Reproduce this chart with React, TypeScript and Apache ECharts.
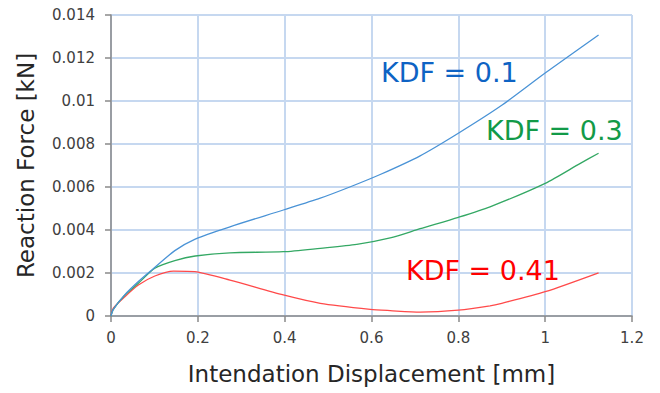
import React, { useEffect, useRef } from "react";
import * as echarts from "echarts";

// Indentation displacement [mm] and reaction force [kN] for each KDF value
const kdf01X = [0, 0.005, 0.03, 0.063, 0.094, 0.147, 0.194, 0.274, 0.397, 0.482, 0.55, 0.62, 0.712, 0.8, 0.9, 1.0, 1.123];
const kdf01Y = [0, 0.0003, 0.00095, 0.0016, 0.00214, 0.00304, 0.00358, 0.00415, 0.00493, 0.00548, 0.006, 0.00658, 0.00745, 0.0085, 0.0098, 0.0113, 0.01307];

const kdf03X = [0, 0.005, 0.03, 0.063, 0.101, 0.147, 0.194, 0.274, 0.397, 0.482, 0.566, 0.643, 0.712, 0.8, 0.873, 1.0, 1.081, 1.123];
const kdf03Y = [0, 0.0003, 0.00093, 0.00152, 0.00222, 0.00257, 0.00279, 0.00294, 0.00299, 0.00315, 0.00333, 0.00363, 0.00406, 0.00459, 0.00508, 0.00617, 0.0071, 0.00757];

const kdf041X = [0, 0.005, 0.032, 0.063, 0.101, 0.144, 0.193, 0.274, 0.397, 0.482, 0.597, 0.643, 0.712, 0.8, 0.873, 0.9, 1.0, 1.123];
const kdf041Y = [0, 0.00036, 0.0009, 0.00144, 0.00186, 0.00209, 0.00206, 0.00167, 0.00098, 0.00059, 0.00031, 0.00025, 0.00018, 0.00027, 0.00047, 0.00059, 0.00113, 0.00201];

const seriesNames = ["KDF = 0.1", "KDF = 0.3", "KDF = 0.41"];
const lineColors = ["#4a93d6", "#34a864", "#ff4a4a"];
const labelColors = ["#0e63c4", "#129a48", "#ff0000"];

const xTitle = "Intendation Displacement [mm]";
const yTitle = "Reaction Force [kN]";

const FONT = "DejaVu Sans";

function pairs(xs: number[], ys: number[]) {
  return xs.map((x, i) => [x, ys[i]]);
}

export default function App() {
  const ref = useRef<HTMLDivElement>(null);

  useEffect(() => {
    if (!ref.current) return;
    const chart = echarts.init(ref.current, undefined, { renderer: "svg" });
    const data = [pairs(kdf01X, kdf01Y), pairs(kdf03X, kdf03Y), pairs(kdf041X, kdf041Y)];
    const gridLine = { show: true, lineStyle: { color: "#c6d8f0", width: 2 } };
    const axisLine = { show: true, lineStyle: { color: "#8a8a8a", width: 1.5 } };
    const axisTick = { show: true, inside: false, length: 6, lineStyle: { color: "#8a8a8a", width: 1.5 } };
    const fmt = (v: number) => String(parseFloat(v.toFixed(4)));

    // text annotations naming each curve
    const labelPos = [
      [381, 72],
      [486, 130],
      [406, 270],
    ];

    chart.setOption({
      animation: false,
      backgroundColor: "#ffffff",
      grid: { left: 111, right: 28, top: 15, bottom: 77, containLabel: false },
      xAxis: {
        type: "value",
        min: 0,
        max: 1.2,
        interval: 0.2,
        name: xTitle,
        nameLocation: "middle",
        nameGap: 46,
        nameTextStyle: { fontFamily: FONT, fontSize: 23, color: "#262626" },
        axisLine,
        axisTick,
        axisLabel: { fontFamily: FONT, fontSize: 15, color: "#404040", margin: 14, formatter: fmt },
        splitLine: gridLine,
      },
      yAxis: {
        type: "value",
        min: 0,
        max: 0.014,
        interval: 0.002,
        name: yTitle,
        nameLocation: "middle",
        nameGap: 74,
        nameTextStyle: { fontFamily: FONT, fontSize: 23, color: "#262626" },
        axisLine,
        axisTick,
        axisLabel: { fontFamily: FONT, fontSize: 15, color: "#404040", margin: 16, formatter: fmt },
        splitLine: gridLine,
      },
      series: data.map((d, i) => ({
        type: "line",
        name: seriesNames[i],
        data: d,
        showSymbol: false,
        symbol: "none",
        smooth: 0.25,
        lineStyle: { color: lineColors[i], width: 1.3 },
        z: 3 - i,
      })),
      graphic: labelPos.map((p, i) => ({
        type: "text",
        x: p[0],
        y: p[1],
        style: {
          text: seriesNames[i],
          fill: labelColors[i],
          font: `27px "${FONT}"`,
          textAlign: "left",
          textVerticalAlign: "middle",
        },
        z: 10,
      })),
    });

    return () => chart.dispose();
  }, []);

  return (
    <div
      ref={ref}
      style={{ position: "fixed", left: 0, top: 0, width: 660, height: 393, background: "#fff" }}
    />
  );
}
